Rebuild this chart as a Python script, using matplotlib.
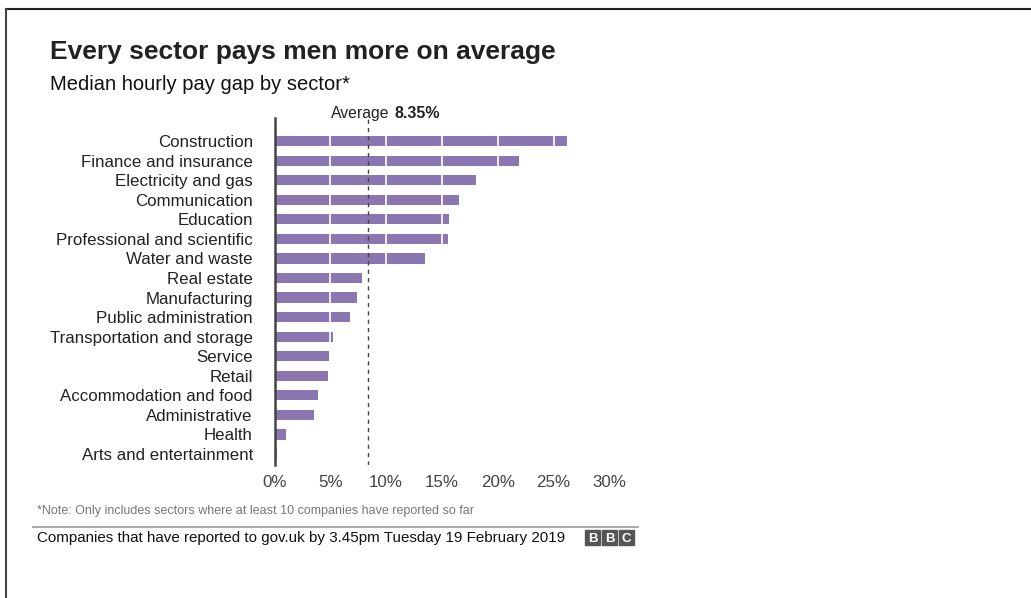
import matplotlib.pyplot as plt
from matplotlib.patches import Rectangle
from matplotlib.lines import Line2D

plt.rcParams['font.family'] = ['Liberation Sans', 'DejaVu Sans']

sectors = ['Construction', 'Finance and insurance', 'Electricity and gas',
           'Communication', 'Education', 'Professional and scientific',
           'Water and waste', 'Real estate', 'Manufacturing',
           'Public administration', 'Transportation and storage', 'Service',
           'Retail', 'Accommodation and food', 'Administrative', 'Health',
           'Arts and entertainment']
gap = [26.2, 21.9, 18.0, 16.5, 15.6, 15.5, 13.5, 7.8, 7.4, 6.8, 5.2, 4.9,
       4.8, 3.9, 3.5, 1.0, 0.2]
average = 8.35
ticks = [0, 5, 10, 15, 20, 25, 30]
tick_labels = ['0%', '5%', '10%', '15%', '20%', '25%', '30%']

W, H = 1031, 598
fig = plt.figure(figsize=(W / 100, H / 100), dpi=100)


def px(x, y):
    return x / W, 1 - y / H


# axes placed so 0% sits at x=274.5 and 30% at x=609.5
ax = fig.add_axes([274.5 / W, 1 - 465 / H, 335 / W, (465 - 118) / H])
ypos = list(range(len(sectors)))
ax.barh(ypos, gap, height=0.52, color='#8a76b0', zorder=2)
for t in ticks[1:-1]:
    ax.axvline(t, color='white', lw=1.2, zorder=3)
ax.axvline(average, color='#444444', lw=1, ls=(0, (3, 3)), zorder=4)

ax.set_xlim(0, 30)
ax.set_ylim(16.56, -1.18)
ax.set_yticks(ypos)
ax.set_yticklabels(sectors, fontsize=12.2, color='#222222')
ax.set_xticks(ticks)
ax.set_xticklabels(tick_labels, fontsize=12.2, color='#444444')
ax.tick_params(length=0, pad=7)
ax.tick_params(axis='y', pad=15.6)
for s in ['top', 'right', 'bottom']:
    ax.spines[s].set_visible(False)
ax.spines['left'].set_color('#444444')
ax.spines['left'].set_linewidth(1.8)
ax.spines['left'].set_zorder(5)

ax.text(average - 3.33, -1.05, 'Average', fontsize=11.3, color='#222222',
        ha='left', va='bottom')
ax.text(average + 2.36, -1.05, '8.35%', fontsize=11.5, color='#222222',
        fontweight='bold', ha='left', va='bottom')

fig.text(*px(50, 52), 'Every sector pays men more on average', fontsize=19,
         fontweight='bold', color='#222222', va='center')
fig.text(*px(50, 85), 'Median hourly pay gap by sector*', fontsize=14.5,
         color='#111111', va='center')

fig.text(*px(37, 511), '*Note: Only includes sectors where at least 10 companies have reported so far',
         fontsize=9.0, color='#777777', va='center')
fig.add_artist(Line2D([33 / W, 638 / W], [1 - 527 / H, 1 - 527 / H],
                      color='#999999', lw=1.2))
fig.text(*px(37, 538), 'Companies that have reported to gov.uk by 3.45pm Tuesday 19 February 2019',
         fontsize=10.9, color='#111111', va='center')

# BBC blocks
for i, letter in enumerate('BBC'):
    x0 = 585 + i * 17
    fig.add_artist(Rectangle((x0 / W, 1 - 545 / H), 15 / W, 15 / H,
                             transform=fig.transFigure, color='#555555'))
    fig.text((x0 + 7.5) / W, 1 - 538 / H, letter, fontsize=9.5,
             fontweight='bold', color='white', ha='center',
             va='center_baseline')

# frame lines at top and left edge
fig.add_artist(Line2D([6 / W, 1], [1 - 9 / H, 1 - 9 / H], color='#222222', lw=1.5))
fig.add_artist(Line2D([6 / W, 6 / W], [0, 1 - 9 / H], color='#444444', lw=1.5))

fig.savefig('out.png', dpi=100)
